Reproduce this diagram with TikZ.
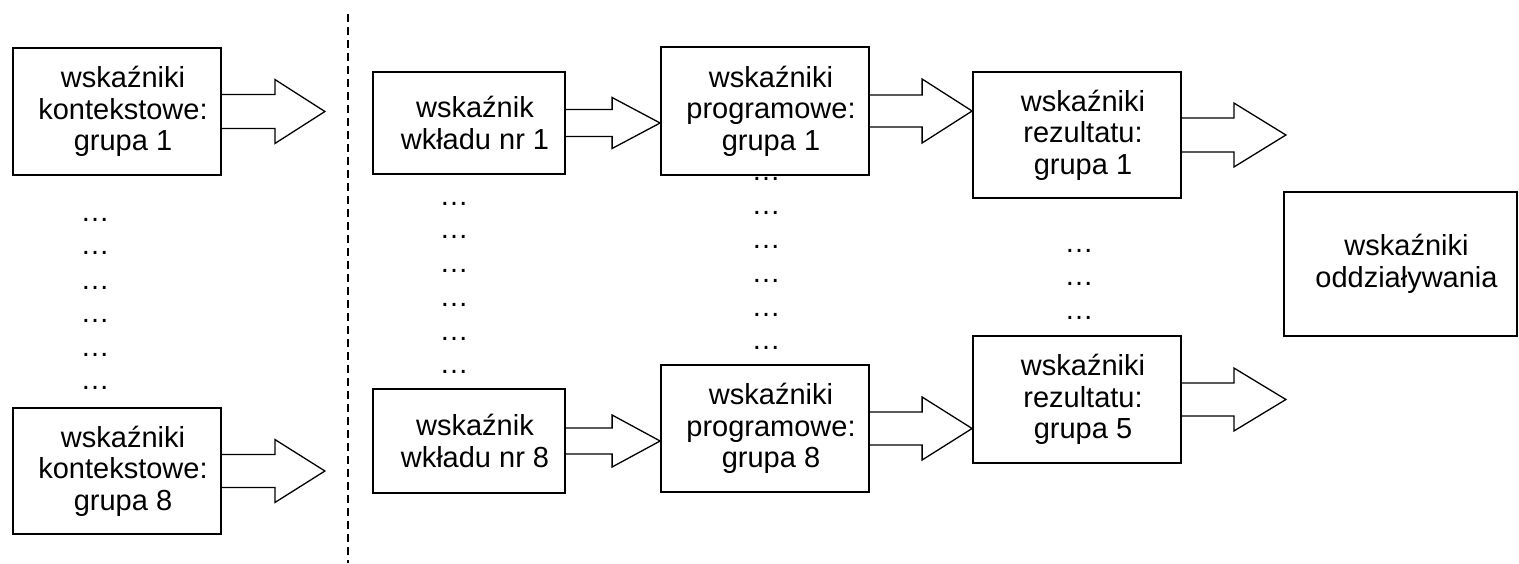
\documentclass[tikz,border=0pt]{standalone}
\usepackage{fontspec}
\setmainfont{Liberation Sans}
\usetikzlibrary{calc}
\newcommand\blkarrow[5]{% #1 source node, #2 tip coordinate, #3 shaft half height, #4 head half height, #5 head length
  \draw[blk] ($(#1.east)+(0,-#3)$) -- ($(#2)+(-#5,-#3)$) -- ($(#2)+(-#5,-#4)$) -- (#2)
    -- ($(#2)+(-#5,#4)$) -- ($(#2)+(-#5,#3)$) -- ($(#1.east)+(0,#3)$);}
\newcommand\boxtext[2]{\node[txt] (#1t) at ([xshift=6pt]#1.center) {#2};}
\begin{document}
\begin{tikzpicture}[x=1pt,y=-1pt,
  box/.style={draw, line width=1.8pt, inner sep=0pt},
  txt/.style={align=center, inner sep=0pt, font=\fontsize{29}{31.5}\selectfont},
  blk/.style={draw, line width=1.3pt, line join=miter},
  dots/.style={anchor=base, inner sep=0pt, font=\fontsize{29}{31.5}\selectfont},
  divider/.style={line width=1.5pt, dash pattern=on 8pt off 5pt}]
\useasboundingbox (0,0) rectangle (1519,563);

% boxes
\node[box, minimum width=208pt, minimum height=127pt] (K1) at (117,111.5) {};
\node[box, minimum width=208pt, minimum height=126pt] (K8) at (117,471) {};
\node[box, minimum width=192pt, minimum height=102pt] (W1) at (469,123) {};
\node[box, minimum width=192pt, minimum height=104pt] (W8) at (469,441) {};
\node[box, minimum width=208pt, minimum height=128pt] (P1) at (765,111) {};
\node[box, minimum width=208pt, minimum height=127pt] (P8) at (765,428.5) {};
\node[box, minimum width=208pt, minimum height=126pt] (R1) at (1077,135) {};
\node[box, minimum width=208pt, minimum height=127pt] (R5) at (1077,399.5) {};
\node[box, minimum width=233pt, minimum height=144pt] (O) at (1400.5,264) {};

\boxtext{K1}{wskaźniki\\kontekstowe:\\grupa 1}
\boxtext{K8}{wskaźniki\\kontekstowe:\\grupa 8}
\boxtext{W1}{wskaźnik\\wkładu nr 1}
\boxtext{W8}{wskaźnik\\wkładu nr 8}
\boxtext{P1}{wskaźniki\\programowe:\\grupa 1}
\boxtext{P8}{wskaźniki\\programowe:\\grupa 8}
\boxtext{R1}{wskaźniki\\rezultatu:\\grupa 1}
\boxtext{R5}{wskaźniki\\rezultatu:\\grupa 5}
\boxtext{O}{wskaźniki\\oddziaływania}

% divider
\coordinate (dtop) at (348,14);
\coordinate (dbot) at (348,563);
\draw[divider] (dtop) -- (dbot);

% arrow tips
\coordinate (k1tip) at ($(K1.east)+(103,0)$);
\coordinate (k8tip) at ($(K8.east)+(103,0)$);
\coordinate (w1tip) at (P1.west |- W1.east);
\coordinate (w8tip) at (P8.west |- W8.east);
\coordinate (p1tip) at (R1.west |- P1.east);
\coordinate (p8tip) at (R5.west |- P8.east);
\coordinate (r1tip) at ($(R1.east)+(104,0)$);
\coordinate (r5tip) at ($(R5.east)+(104,0)$);

% block arrows
\blkarrow{K1}{k1tip}{17}{32}{50}
\blkarrow{K8}{k8tip}{16.5}{31.5}{50}
\blkarrow{W1}{w1tip}{13.5}{25.5}{48}
\blkarrow{W8}{w8tip}{13}{26}{48}
\blkarrow{P1}{p1tip}{16}{32}{50}
\blkarrow{P8}{p8tip}{16.5}{31.5}{50}
\blkarrow{R1}{r1tip}{17}{32}{52}
\blkarrow{R5}{r5tip}{16.5}{31.5}{52}

% ellipses
\foreach \y [count=\i] in {219,252,287,320,354,387}
  \node[dots] (dk\i) at (95,\y+2) {…};
\foreach \y [count=\i] in {203,236,270,304,338,371}
  \node[dots] (dw\i) at (454,\y+2) {…};
\foreach \y [count=\i] in {178,212,246,280,314,347}
  \node[dots] (dp\i) at (766,\y+2) {…};
\foreach \y [count=\i] in {250,283,317}
  \node[dots] (dr\i) at (1079,\y+2) {…};
\end{tikzpicture}
\end{document}
